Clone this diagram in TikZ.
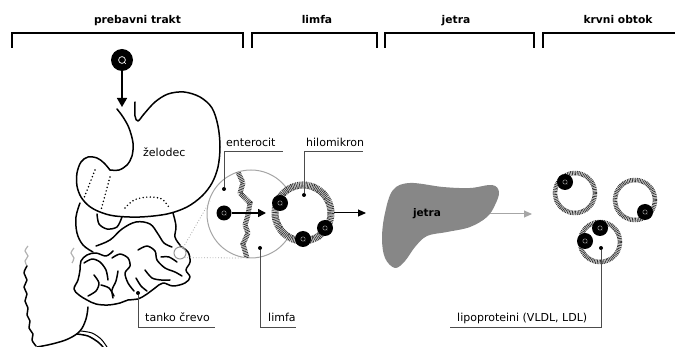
\documentclass[tikz,border=0pt]{standalone}
\usepackage{fontspec}
\setmainfont{DejaVu Sans}
\usetikzlibrary{arrows.meta}
\begin{document}
\begin{tikzpicture}[x=1pt,y=-1pt,
  hdr/.style={font=\fontsize{10.7}{12}\selectfont\bfseries, anchor=base, inner sep=0pt},
  lbl/.style={font=\fontsize{11}{13}\selectfont, anchor=base west, inner sep=0pt},
  brk/.style={line width=1.7pt, black},
  organ/.style={line width=1.5pt, black, line join=round, line cap=round},
  hidden/.style={line width=1.7pt, black, line cap=round, dash pattern=on 0pt off 3.6pt},
  lead/.style={line width=0.9pt, black!70},
  pin/.style={circle, fill=black, inner sep=0pt, minimum size=4pt},
  fat/.style={circle, fill=black, inner sep=0pt, minimum size=15pt,
    path picture={\draw[gray!70, line width=0.45pt]
      (path picture bounding box.center) circle (2.2pt)
      ++(1.3pt,-1.3pt) -- ++(1pt,-1pt);}},
  ringA/.style={line width=#1, gray!22},
  ringB/.style={line width=#1, black!80, dash pattern=on 0.7pt off 0.9pt},
  push/.style={line width=1.6pt, black, -{Triangle[length=8pt,width=8pt]}},
  thinpush/.style={line width=1pt, black, -{Triangle[length=8pt,width=7pt]}},
]
\useasboundingbox (0,0) rectangle (675,347);

% section headers and brackets
\node[hdr] (h1) at (137.5,24) {prebavni trakt};
\node[hdr] (h2) at (317,24) {limfa};
\node[hdr] (h3) at (456,24) {jetra};
\node[hdr] (h4) at (618,24) {krvni obtok};
\draw[brk] (12,48) |- (243,33) -- (243,48);
\draw[brk] (252,48) |- (377,33) -- (377,48);
\draw[brk] (385,48) |- (534,33) -- (534,48);
\draw[brk] (543,48) |- (675,33);

% fat taken in with food
\node[fat, minimum size=22pt,
  path picture={\draw[white, line width=0.7pt]
    (path picture bounding box.center) circle (3.4pt)
    ++(2pt,-2pt) -- ++(1.8pt,-1.8pt);}] (food) at (122,60) {};
\coordinate (mouth) at (122,107);
\draw[line width=1.5pt, -{Triangle[length=9pt,width=10pt]}] (food) -- (mouth);

% stomach
\draw[organ] plot[smooth, tension=0.55] coordinates {
  (135,102) (135,116) (138,121) (144,114) (155,102) (168,94) (184,92)
  (200,97) (212,108) (218,126) (220,147) (218,167) (212,183) (202,196)
  (187,207) (167,214) (140,217) (115,216) (100,212) (89,206) (81,197)
  (77,186) (77,173) (81,162) (88,157) (97,158) (104,163) (110,170)};
\draw[organ] plot[smooth, tension=0.55] coordinates {
  (110,170) (119,170) (127,165) (132,156) (133,143) (129,128) (123,117) (117,109)};
\node[lbl] (stomach) at (143,157) {želodec};
\draw[hidden] (95,170) -- (84,198);
\draw[hidden] (110,177) -- (101,210);
\draw[hidden] plot[smooth] coordinates {(125,208) (134,200) (148,197) (162,199) (170,209)};
% duodenal bulb below the stomach
\draw[organ] plot[smooth] coordinates {(97,214) (99,224) (107,229) (117,227) (122,217)};

% duodenum
\draw[organ] plot[smooth, tension=0.6] coordinates {
  (80,203) (76,217) (77,233) (83,245) (93,252)};
\draw[organ] plot[smooth, tension=0.6] coordinates {
  (173,213) (176,226) (175,237) (180,245)};
\draw[organ] plot[smooth, tension=0.6] coordinates {
  (96,246) (110,240) (122,229) (136,222) (150,224) (158,234) (164,243) (172,247)};

% small intestine coils
\draw[organ] plot[smooth, tension=0.6] coordinates {
  (180,246) (188,252) (190,262) (186,270) (190,277) (185,283) (173,286)
  (163,283) (155,288) (147,294) (138,299) (128,300) (120,303) (108,305)
  (96,304) (87,300) (79,295) (74,289) (78,280) (80,270) (81,261)
  (87,255) (96,253) (106,256) (113,251)};
\draw[organ] plot[smooth] coordinates {(84,263) (92,259) (100,262) (106,270) (108,280)};
\draw[organ] plot[smooth] coordinates {(94,275) (99,283) (96,291) (88,296)};
\draw[organ] plot[smooth] coordinates {(112,258) (120,254) (128,258) (130,266) (125,273) (128,283) (134,291)};
\draw[organ] plot[smooth] coordinates {(118,271) (116,281) (112,290) (113,298)};
\draw[organ] plot[smooth] coordinates {(138,250) (147,246) (155,251) (157,260) (165,268) (175,272) (182,276)};
\draw[organ] plot[smooth] coordinates {(145,270) (152,278) (161,280) (170,280)};
\draw[organ] plot[smooth] coordinates {(136,278) (141,286) (147,291)};
\draw[organ] plot[smooth] coordinates {(101,285) (109,288) (114,296)};
\draw[organ] plot[smooth] coordinates {(161,257) (169,257) (177,262)};

% large intestine
\draw[line width=1.2pt, gray!60] plot[smooth] coordinates {
  (28,246) (25,251) (28,256) (25,261) (27,266)};
\draw[line width=1.2pt, gray!60] plot[smooth] coordinates {
  (74,248) (71,253) (74,258) (72,263)};
\draw[organ] plot[smooth, tension=0.6] coordinates {
  (27,266) (24,273) (27,280) (24,287) (27,294) (25,301) (28,308)
  (27,315) (30,321) (29,328) (33,334) (32,340) (36,346)};
\draw[organ] plot[smooth, tension=0.6] coordinates {
  (37,347) (52,344) (68,339) (80,331) (86,319) (88,307)};
\draw[organ] plot[smooth] coordinates {(77,334) (88,336) (98,342) (103,347)};
\draw[line width=1pt] plot[smooth] coordinates {(81,331) (92,333) (101,339) (107,347)};

% intestine label
\node[pin] (gutpin) at (138,293) {};
\node[lbl] (gut) at (145,322) {tanko črevo};
\coordinate (gutend) at (215,327);
\draw[lead] (gutpin) |- (gutend);

% magnified intestinal wall
\node[circle, draw=gray!80, line width=1pt, inner sep=0pt, minimum size=12pt] (spot) at (180,253) {};
\node[circle, draw=gray!70, line width=1pt, inner sep=0pt, minimum size=88pt] (wall) at (251,214) {};
\coordinate (wallA) at (210,201);
\coordinate (wallB) at (243,258);
\draw[gray!70, line width=0.8pt, dotted] (spot) -- (wallA);
\draw[gray!70, line width=0.8pt, dotted] (spot.south east) -- (wallB);
\begin{scope}
  \clip (251,214) circle (44);
  \draw[ringA=5pt] plot[sharp plot] coordinates {
    (237,170) (243,183) (240,193) (250,203) (248,215) (245,225) (248,233) (243,244) (247,258)};
  \draw[ringB=5pt] plot[sharp plot] coordinates {
    (237,170) (243,183) (240,193) (250,203) (248,215) (245,225) (248,233) (243,244) (247,258)};
\end{scope}
\node[fat] (mol) at (224,213) {};
\coordinate (molend) at (266,213);
\draw[push] (mol) -- (molend);

% chylomicron
\node[circle, fill=white, inner sep=0pt, minimum size=56pt] (chylo) at (303,213) {};
\draw[ringA=7pt] (chylo.center) circle (28);
\draw[ringB=7pt] (chylo.center) circle (28);
\node[fat, minimum size=16pt] (c1) at (280,203) {};
\node[fat, minimum size=16pt] (c2) at (303,239) {};
\node[fat, minimum size=16pt] (c3) at (325,228) {};
\coordinate (chyloout) at (334,213);
\coordinate (chyloend) at (366,213);
\draw[thinpush] (chyloout) -- (chyloend);

% leaders for the wall, chylomicron and lymph
\node[pin] (entpin) at (224,189) {};
\node[lbl] (ent) at (226,147) {enterocit};
\coordinate (entend) at (283,151);
\draw[lead] (entpin) |- (entend);
\node[pin] (chpin) at (304,195) {};
\node[lbl] (ch) at (306,147) {hilomikron};
\coordinate (chend) at (363,151);
\draw[lead] (chpin) |- (chend);
\node[pin] (lympin) at (260,248) {};
\node[lbl] (lym) at (268,322) {limfa};
\coordinate (lymend) at (296,327);
\draw[lead] (lympin) |- (lymend);

% liver
\fill[black!47] plot[smooth cycle, tension=0.6] coordinates {
  (393,190) (410,183) (443,187) (470,188) (492,185) (499,192) (495,205)
  (487,217) (470,227) (447,232) (427,236) (415,247) (405,261) (395,268)
  (385,258) (382,238) (385,213)};
\node[font=\fontsize{10.5}{12}\selectfont\bfseries] (liver) at (427,214) {jetra};
\coordinate (liverout) at (490,214);
\coordinate (liverend) at (532,214);
\draw[line width=1pt, gray!70, -{Triangle[length=8pt,width=7pt]}] (liverout) -- (liverend);

% lipoproteins in the blood
\foreach \n/\p in {la/{(575,193)}, lb/{(635,200)}, lc/{(600,242)}} {
  \node[circle, fill=white, inner sep=0pt, minimum size=40pt] (\n) at \p {};
  \draw[ringA=4.5pt] (\n.center) circle (20);
  \draw[ringB=4.5pt] (\n.center) circle (20);
}
\node[fat, minimum size=16pt] (la1) at (565,182) {};
\node[fat, minimum size=16pt] (lb1) at (645,212) {};
\node[fat, minimum size=16pt] (lc1) at (600,228) {};
\node[fat, minimum size=16pt] (lc2) at (585,241) {};
\node[pin] (lppin) at (601,248) {};
\node[lbl] (lp) at (457,322) {lipoproteini (VLDL, LDL)};
\coordinate (lpend) at (450,327);
\draw[lead] (lppin) |- (lpend);
\end{tikzpicture}
\end{document}
